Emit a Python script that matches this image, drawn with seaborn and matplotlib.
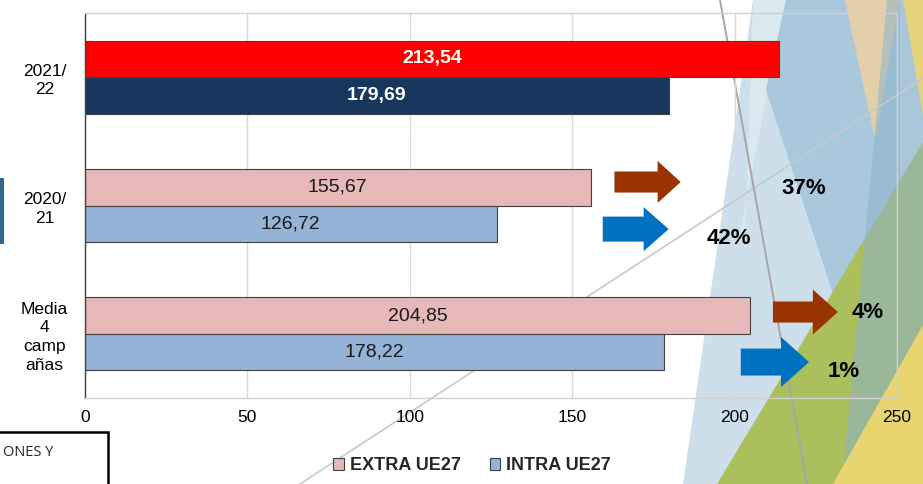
import numpy as np
import pandas as pd
import matplotlib
matplotlib.use('Agg')
import matplotlib.pyplot as plt
import seaborn as sns
from matplotlib.patches import Polygon, Rectangle, FancyArrow, Patch
from matplotlib.lines import Line2D

# datos
campanas = ['2021/\n22', '2020/\n21', 'Media\n4\ncamp\nañas']
series = ['EXTRA UE27', 'INTRA UE27']
extra_ue27 = [213.54, 155.67, 204.85]
intra_ue27 = [179.69, 126.72, 178.22]
x_ticks = [0, 50, 100, 150, 200, 250]

# variacion de la campaña 2021/22 frente a 2020/21 y a la media
var_extra = [extra_ue27[0] / extra_ue27[1] - 1, extra_ue27[0] / extra_ue27[2] - 1]
var_intra = [intra_ue27[0] / intra_ue27[1] - 1, intra_ue27[0] / intra_ue27[2] - 1]

pink = '#E6B9B8'
lblue = '#95B3D7'
red = '#FF0000'
navy = '#17375E'
brown = '#993300'
arrow_blue = '#0070C0'

sns.set_style('white')
plt.rcParams['font.family'] = ['Liberation Sans', 'DejaVu Sans']

W, H = 923, 484
fig = plt.figure(figsize=(W / 100, H / 100), dpi=100)
ax = fig.add_axes([85 / W, 1 - 398 / H, (897 - 85) / W, (398 - 13) / H])
ax.set_facecolor('none')


def px(pts):
    return [(x / W, 1 - y / H) for x, y in pts]


def deco(pts, color, alpha=1.0, z=-5):
    fig.add_artist(Polygon(px(pts), closed=True, transform=fig.transFigure,
                           facecolor=color, edgecolor='none', alpha=alpha, zorder=z))


# fondo decorativo (triangulos de la plantilla)
deco([(753, 0), (923, 0), (923, 484), (683, 484)], '#CCDFEA')
deco([(753, 0), (790, 0), (768, 90), (738, 242), (745, 242)], '#DAE8F0')
deco([(786, 0), (900, 0), (900, 300), (835, 300), (766, 90)], '#AAC8DC')
deco([(845, 0), (900, 0), (875, 140)], '#E3D0AA')
deco([(717, 484), (923, 142), (923, 484)], '#ABBF5C')
deco([(887, 0), (923, 0), (923, 484), (842, 484)], '#8DB3CC', alpha=0.55)
deco([(903, 0), (923, 0), (923, 115)], '#E2D37C')
deco([(833, 484), (923, 325), (923, 484)], '#E8D570')
fig.add_artist(Line2D([300 / W, 1.0], [1 - 484 / H, 1 - 78 / H], transform=fig.transFigure,
                      color='#C8C8C8', lw=1.2, zorder=-1))
fig.add_artist(Line2D([720 / W, 807 / W], [1.0, 0.0], transform=fig.transFigure,
                      color='#A6A6A6', lw=1.4, zorder=-1))

# pestaña azul y recuadro de la izquierda
fig.add_artist(Rectangle((-3 / W, 1 - 244 / H), 7 / W, 66 / H, transform=fig.transFigure,
                         facecolor='#31688C', edgecolor='none', zorder=2))
fig.add_artist(Rectangle((-5 / W, -0.05), 113 / W, 0.05 + (484 - 432) / H, transform=fig.transFigure,
                         fill=False, edgecolor='black', lw=1.8, zorder=2))
fig.text(3 / W, 1 - 452 / H, 'ONES Y', fontsize=10.5, family=['Open Sans', 'DejaVu Sans'],
         va='center', ha='left', color='#262626')

# barras
df = pd.DataFrame({
    'campaña': campanas * 2,
    'serie': [series[0]] * len(campanas) + [series[1]] * len(campanas),
    'valor': extra_ue27 + intra_ue27,
})
sns.barplot(data=df, y='campaña', x='valor', hue='serie', orient='h', width=0.57,
            palette=[pink, lblue], saturation=1, edgecolor='#404040', linewidth=0.8,
            legend=False, ax=ax)

highlight = [red, navy]
for i, cont in enumerate(ax.containers):
    cont[0].set_facecolor(highlight[i])
    vals = extra_ue27 if i == 0 else intra_ue27
    labels = [f'{v:.2f}'.replace('.', ',') for v in vals]
    texts = ax.bar_label(cont, labels=labels, label_type='center', fontsize=14, color='#1a1a1a')
    texts[0].set_color('white')
    texts[0].set_fontweight('bold')

# flechas y porcentajes
arrows = [
    (163.0, 183.4, 0.817, brown, 0.164, 0.327, 7.1),
    (159.4, 179.7, 1.184, arrow_blue, 0.195, 0.343, 7.7),
    (211.8, 231.8, 1.830, brown, 0.164, 0.350, 7.7),
    (201.9, 222.9, 2.220, arrow_blue, 0.210, 0.390, 8.6),
]
for x0, x1, y, c, w, hw, hl in arrows:
    ax.add_patch(FancyArrow(x0, y, x1 - x0, 0, width=w, head_width=hw, head_length=hl,
                            length_includes_head=True, color=c, lw=0, zorder=4))

pct = [f'{v * 100:.0f}%' for v in (var_extra + var_intra)]
pct_pos = [(221.3, 0.864), (241.0, 1.83), (198.2, 1.26), (233.7, 2.29)]
for (x, y), t in zip(pct_pos, pct):
    ax.text(x, y, t, ha='center', va='center', fontsize=16, fontweight='bold', color='black', zorder=5)

# ejes
ax.set_xlim(0, 250)
ax.set_ylim(2.5, -0.5)
ax.set_xticks(x_ticks)
ax.set_xlabel('')
ax.set_ylabel('')
ax.xaxis.grid(True, color='#D9D9D9', lw=1)
ax.yaxis.grid(False)
ax.set_axisbelow(True)
for s in ['top', 'right', 'bottom']:
    ax.spines[s].set_color('#D0D0D0')
    ax.spines[s].set_linewidth(1)
ax.spines['left'].set_color('#404040')
ax.spines['left'].set_linewidth(1)
ax.tick_params(axis='x', length=0, pad=9, labelsize=12.5, labelcolor='black')
ax.tick_params(axis='y', length=0, pad=29, labelsize=12.5, labelcolor='black')
for lab in ax.get_yticklabels():
    lab.set_horizontalalignment('center')
    lab.set_multialignment('center')
    lab.set_linespacing(1.3)

handles = [Patch(facecolor=pink, edgecolor='#404040', lw=0.8),
           Patch(facecolor=lblue, edgecolor='#404040', lw=0.8)]
fig.legend(handles, series, loc='center', bbox_to_anchor=(472 / W, 1 - 466 / H), ncol=2,
           frameon=False, prop={'weight': 'bold', 'size': 13}, handlelength=0.6,
           handleheight=0.6, handletextpad=0.3, columnspacing=1.6)

fig.savefig('out.png', dpi=100)
